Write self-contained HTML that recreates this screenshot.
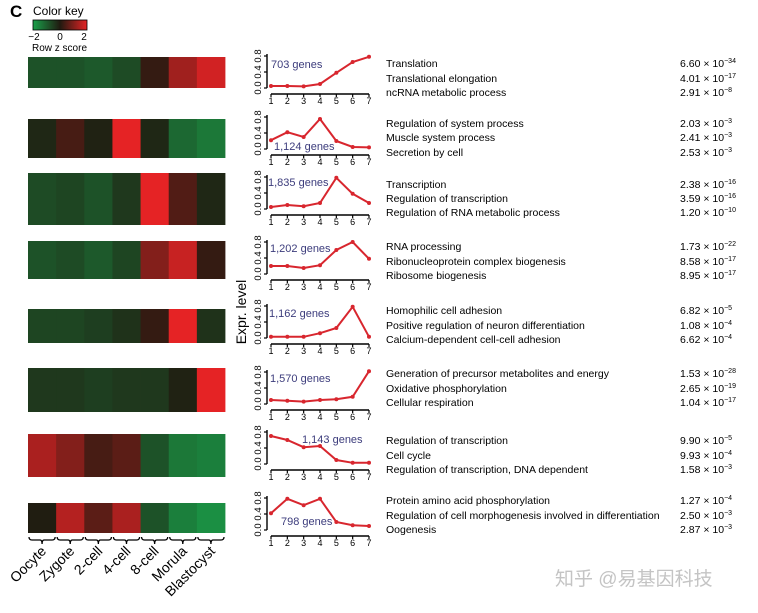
<!DOCTYPE html>
<html><head><meta charset="utf-8">
<style>
html,body{margin:0;padding:0;background:#fff;}
body{width:758px;height:608px;overflow:hidden;font-family:"Liberation Sans",Arial,sans-serif;}
svg text{font-family:"Liberation Sans","Noto Sans CJK SC",sans-serif;}
</style></head>
<body>
<svg id="fig" width="758" height="608" viewBox="0 0 758 608" xmlns="http://www.w3.org/2000/svg">
<defs>
<linearGradient id="ck" x1="0" x2="1" y1="0" y2="0">
<stop offset="0" stop-color="#1aa04a"/><stop offset="0.5" stop-color="#201a10"/><stop offset="1" stop-color="#e52325"/>
</linearGradient>
</defs>
<text x="10" y="17" font-size="17" font-weight="bold">C</text>
<text x="33" y="15" font-size="12">Color key</text>
<rect x="33" y="20" width="54" height="10" fill="url(#ck)" stroke="#000" stroke-width="0.8"/>
<g font-size="10">
<text x="34" y="40" text-anchor="middle">−2</text><text x="60" y="40" text-anchor="middle">0</text><text x="84" y="40" text-anchor="middle">2</text>
</g>
<text x="32" y="51" font-size="10">Row z score</text>
<text transform="translate(246,312) rotate(-90)" font-size="14" text-anchor="middle">Expr. level</text>
<g id="heat"></g>
<g id="labels"></g>
<g id="charts"></g>
<g id="go"></g>
<text x="555" y="585" font-size="19" fill="#c4c4c4" font-family="Liberation Sans, Noto Sans CJK SC, sans-serif">知乎 @易基因科技</text>
</svg>
<script>
const stages = ["Oocyte","Zygote","2-cell","4-cell","8-cell","Morula","Blastocyst"];
const heatZ = [
 [-1,-1,-1.1,-0.9,0.2,1.3,1.8],
 [-0.3,0.4,-0.2,2,-0.3,-1.3,-1.5],
 [-0.9,-0.8,-1,-0.6,2,0.5,-0.3],
 [-1,-0.9,-1.1,-0.8,1,1.7,0.2],
 [-0.8,-0.8,-0.7,-0.5,0.2,2,-0.5],
 [-0.6,-0.6,-0.7,-0.6,-0.6,-0.2,2],
 [1.4,1,0.4,0.6,-1,-1.5,-1.6],
 [-0.1,1.5,0.6,1.4,-1,-1.6,-1.8]
];
const geneCounts = ["703 genes","1,124 genes","1,835 genes","1,202 genes","1,162 genes","1,570 genes","1,143 genes","798 genes"];
const expr1 = [0.05,0.05,0.04,0.1,0.38,0.65,0.78];
const expr2 = [0.22,0.42,0.3,0.75,0.2,0.05,0.04];
const expr3 = [0.05,0.1,0.07,0.15,0.78,0.38,0.15];
const expr4 = [0.2,0.2,0.15,0.22,0.6,0.8,0.38];
const expr5 = [0.03,0.03,0.03,0.12,0.25,0.78,0.03];
const expr6 = [0.1,0.08,0.06,0.1,0.12,0.18,0.82];
const expr7 = [0.7,0.6,0.42,0.45,0.1,0.03,0.03];
const expr8 = [0.42,0.78,0.62,0.78,0.2,0.12,0.1];
const yTicks = ["0.0","0.4","0.8"];
const xTicks = ["1","2","3","4","5","6","7"];
const goTerms = [
 ["Translation","Translational elongation","ncRNA metabolic process"],
 ["Regulation of system process","Muscle system process","Secretion by cell"],
 ["Transcription","Regulation of transcription","Regulation of RNA metabolic process"],
 ["RNA processing","Ribonucleoprotein complex biogenesis","Ribosome biogenesis"],
 ["Homophilic cell adhesion","Positive regulation of neuron differentiation","Calcium-dependent cell-cell adhesion"],
 ["Generation of precursor metabolites and energy","Oxidative phosphorylation","Cellular respiration"],
 ["Regulation of transcription","Cell cycle","Regulation of transcription, DNA dependent"],
 ["Protein amino acid phosphorylation","Regulation of cell morphogenesis involved in differentiation","Oogenesis"]
];
const pMant = [["6.60","-34"],["4.01","-17"],["2.91","-8"],["2.03","-3"],["2.41","-3"],["2.53","-3"],["2.38","-16"],["3.59","-16"],["1.20","-10"],["1.73","-22"],["8.58","-17"],["8.95","-17"],["6.82","-5"],["1.08","-4"],["6.62","-4"],["1.53","-28"],["2.65","-19"],["1.04","-17"],["9.90","-5"],["9.93","-4"],["1.58","-3"],["1.27","-4"],["2.50","-3"],["2.87","-3"]];

const NS="http://www.w3.org/2000/svg";
function mk(tag,attrs,parent){const e=document.createElementNS(NS,tag);for(const k in attrs)e.setAttribute(k,attrs[k]);parent.appendChild(e);return e;}
function lerp(a,b,t){return Math.round(a+(b-a)*t);}
function zcol(z){z=Math.max(-2,Math.min(2,z));const k=[32,26,16],r=[229,35,37],g=[26,160,74];let t=Math.abs(z)/2;if(z<0)t=Math.pow(t,1.25);const c=z>=0?r:g;return "rgb("+lerp(k[0],c[0],t)+","+lerp(k[1],c[1],t)+","+lerp(k[2],c[2],t)+")";}

const heatTop=[57,119,173,241,309,368,434,503], heatBot=[88,158,225,279,343,412,477,533];
const labelY=[100,161,221,286,350,416,476,542];
const geneXY=[[271,68],[274,150],[268,186],[270,252],[269,317],[270,382],[302,443],[281,525]];
const goY=[[63,78,92],[123,137,152],[184,198,212],[246,261,275],[310,325,339],[373,388,402],[440,455,469],[500,515,529]];
const hx0=28, colW=(225-28)/7;
const heat=document.getElementById('heat');
heatZ.forEach((row,ri)=>{
  const g=mk('g',{},heat);
  
  
  row.forEach((z,ci)=>{
    const r=mk('rect',{x:hx0+ci*colW,y:heatTop[ri],width:colW+0.4,height:heatBot[ri]-heatTop[ri],fill:zcol(z)},g);
    
    
  });
});
const lab=document.getElementById('labels');
stages.forEach((s,i)=>{
  const x0=hx0+i*colW+1, x1=hx0+(i+1)*colW-1, xm=(x0+x1)/2;
  const p=mk('path',{d:`M${x0} 537 Q${x0} 540 ${x0+3} 540 L${xm-2} 540 Q${xm} 540 ${xm} 544 Q${xm} 540 ${xm+2} 540 L${x1-3} 540 Q${x1} 540 ${x1} 537`,fill:'none',stroke:'#000','stroke-width':1.3},lab);
  
  
  const t=mk('text',{transform:`translate(${xm+5},${552}) rotate(-45)`,'font-size':14,'text-anchor':'end'},lab);
  t.textContent=s;
  
  
});
const allExpr=[expr1,expr2,expr3,expr4,expr5,expr6,expr7,expr8];
const ch=document.getElementById('charts');
const px0=271, px1=369;
function xs(i){return px0+(px1-px0)*i/6;}
allExpr.forEach((vals,ci)=>{
  const L=labelY[ci], y0=L-12;
  const ys=v=>y0-v*40;
  const g=mk('g',{},ch);
  
  
  const ax=mk('line',{x1:267,x2:267,y1:ys(0.85),y2:ys(0),stroke:'#000','stroke-width':1.4},g);
  
  
  yTicks.forEach(t=>{
    const v=parseFloat(t);
    mk('line',{x1:264,x2:267,y1:ys(v),y2:ys(v),stroke:'#000','stroke-width':1.2},g);
    const tx=mk('text',{transform:`translate(261,${ys(v)}) rotate(-90)`,'font-size':9.5,'text-anchor':'middle'},g);
    tx.textContent=t;
    
    
  });
  const xa=mk('line',{x1:px0,x2:px1,y1:L-6,y2:L-6,stroke:'#000','stroke-width':1.4},g);
  
  
  xTicks.forEach((t,i)=>{
    mk('line',{x1:xs(i),x2:xs(i),y1:L-6,y2:L-3,stroke:'#000','stroke-width':1.2},g);
    const tx=mk('text',{x:xs(i),y:L+4,'font-size':9,'text-anchor':'middle'},g);
    tx.textContent=t;
    
    
  });
  const pl=mk('polyline',{points:vals.map((v,i)=>xs(i)+','+ys(v)).join(' '),fill:'none',stroke:'#d8262e','stroke-width':2},g);
  
  
  vals.forEach((v,i)=>{
    const c=mk('circle',{cx:xs(i),cy:ys(v),r:2,fill:'#d8262e'},g);
    
    
  });
  const gt=mk('text',{x:geneXY[ci][0],y:geneXY[ci][1],'font-size':11,fill:'#3c3c7c'},g);
  gt.textContent=geneCounts[ci];
  
  
});
const go=document.getElementById('go');
goTerms.forEach((terms,gi)=>{
  terms.forEach((term,ti)=>{
    const y=goY[gi][ti]+4;
    const t=mk('text',{x:386,y:y,'font-size':10.5},go);
    t.textContent=term;
    
    
    const p=pMant[gi*3+ti];
    const pt=mk('text',{x:680,y:y,'font-size':10.5},go);
    
    
    const s1=mk('tspan',{},pt); s1.textContent=p[0]+" × 10";
    const s2=mk('tspan',{dy:-4,'font-size':7}, pt); s2.textContent=p[1].replace('-','−');
  });
});
</script>
</body></html>
